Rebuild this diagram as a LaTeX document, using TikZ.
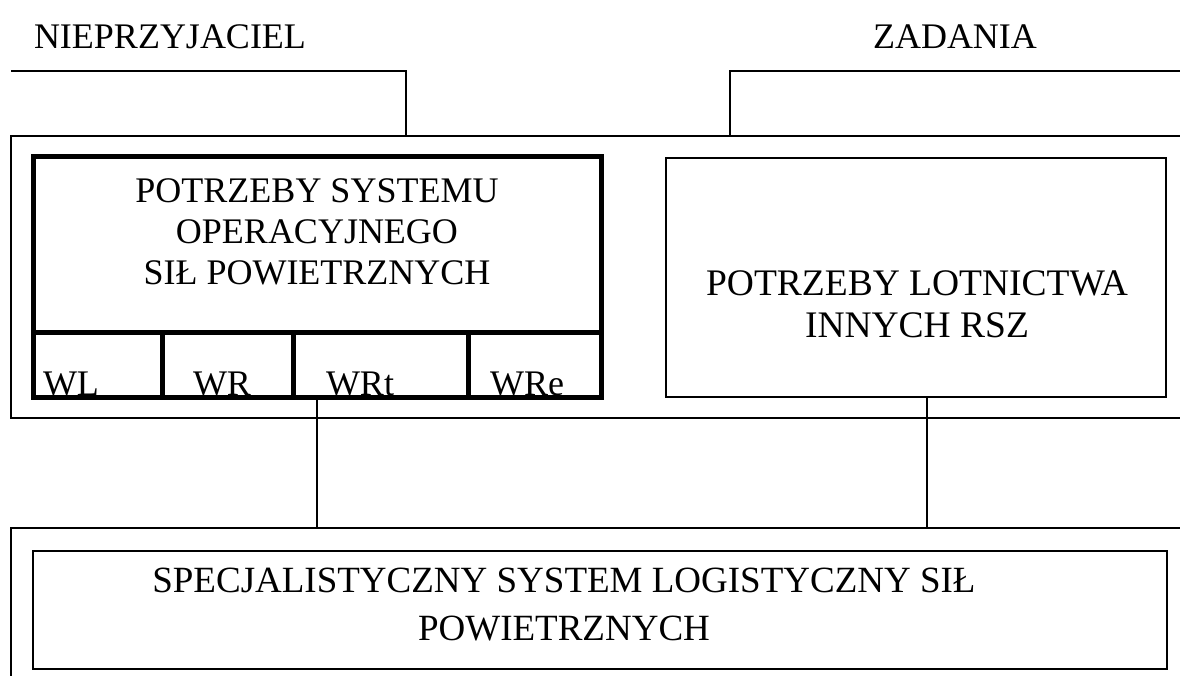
\documentclass[tikz,border=0pt]{standalone}
\usepackage{fontspec}
\setmainfont{Liberation Serif}
\begin{document}
\begin{tikzpicture}[x=1pt,y=-1pt,
  conn/.style={line width=2.2pt},
  frame/.style={line width=2.2pt},
  thickbox/.style={draw,line width=5pt,inner sep=0pt},
  thinbox/.style={draw,line width=2.2pt,inner sep=0pt},
  lbl/.style={font=\fontsize{36}{42}\selectfont,inner sep=0pt},
  txt/.style={font=\fontsize{36}{41}\selectfont,align=center,inner sep=0pt},
  celltxt/.style={font=\fontsize{36}{41}\selectfont,inner sep=0pt,anchor=base}
]
\useasboundingbox (0,0) rectangle (1180,676);
% top labels
\node[lbl] (enemy) at (170,37) {NIEPRZYJACIEL};
\node[lbl] (tasks) at (955,37) {ZADANIA};
% outer frames (open on the right)
\draw[frame] (1180,136) -- (11,136) -- (11,418) -- (1180,418);
\draw[frame] (1180,528) -- (11,528) -- (11,676);
\coordinate (topframeL) at (406,136);
\coordinate (topframeR) at (730,136);
\coordinate (botframeL) at (317,528);
\coordinate (botframeR) at (927,528);
% input lines
\draw[conn] (11,71) -- (406,71) -- (topframeL);
\draw[conn] (1180,71) -- (730,71) -- (topframeR);
% boxes
\node[thickbox,minimum width=568pt,minimum height=240pt] (sys) at (317,277) {};
\node[thinbox,minimum width=500pt,minimum height=239pt] (other) at (916,277.5) {};
\node[thinbox,minimum width=1134pt,minimum height=118pt] (logi) at (600,610) {};
% subdivisions of the thick box
\draw[line width=5pt] (33,332) -- (601,332);
\draw[line width=5pt] (162,332) -- (162,397);
\draw[line width=5pt] (293,332) -- (293,397);
\draw[line width=5pt] (468,332) -- (468,397);
% texts
\node[txt] (systxt) at (317,232) {POTRZEBY SYSTEMU\\OPERACYJNEGO\\SIŁ POWIETRZNYCH};
\node[txt,font=\fontsize{37.5}{42}\selectfont] (othertxt) at (917,304) {POTRZEBY LOTNICTWA\\INNYCH RSZ};
\node[txt,font=\fontsize{37}{48}\selectfont] (logitxt) at (564,605) {SPECJALISTYCZNY SYSTEM LOGISTYCZNY SIŁ\\POWIETRZNYCH};
\node[celltxt] (wl) at (71,395) {WL};
\node[celltxt] (wr) at (222,395) {WR};
\node[celltxt] (wrt) at (360,395) {WRt};
\node[celltxt] (wre) at (527,395) {WRe};
% connectors to the lower system
\draw[conn] (sys.south -| botframeL) -- (botframeL);
\draw[conn] (other.south -| botframeR) -- (botframeR);
\end{tikzpicture}
\end{document}
